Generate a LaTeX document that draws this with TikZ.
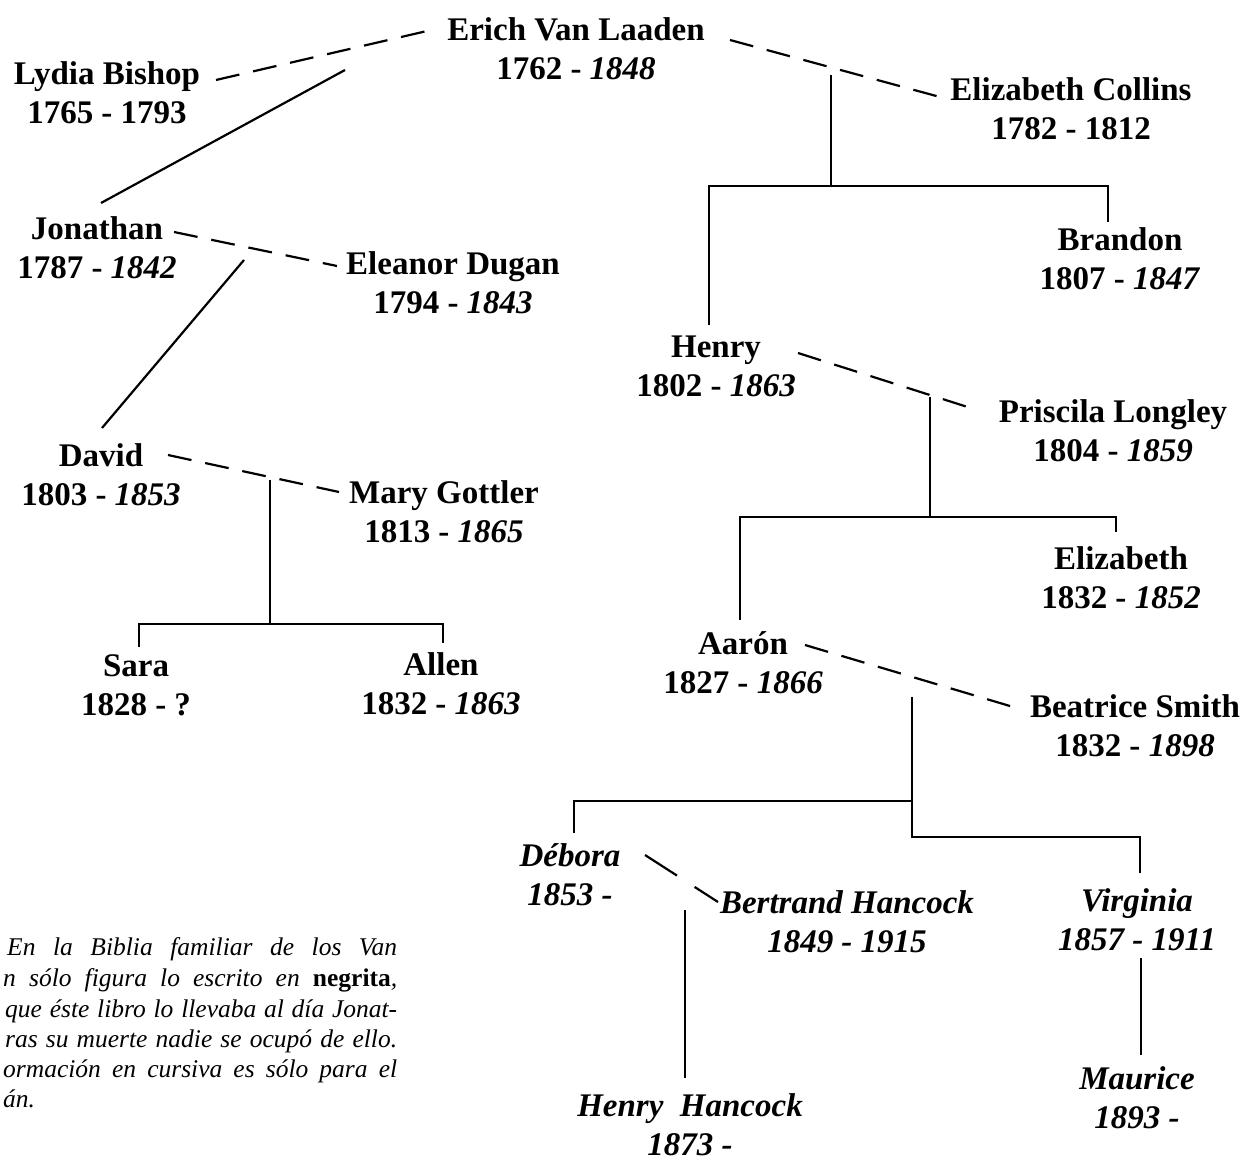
\documentclass[tikz,border=0pt]{standalone}
\usepackage{fontspec}
\setmainfont{Liberation Serif}
\begin{document}
\begin{tikzpicture}[x=1pt,y=-1pt,
  person/.style={font=\fontsize{33}{39}\selectfont\bfseries, align=center, inner sep=0pt},
  italperson/.style={person, font=\fontsize{33}{39}\selectfont\bfseries\itshape},
  marriage/.style={line width=2.2pt, dash pattern=on 24pt off 14pt},
  descent/.style={line width=2.2pt},
  noteline/.style={font=\fontsize{25.5}{30}\selectfont\itshape, anchor=base west, inner sep=0pt}]
\useasboundingbox[fill=white] (0,0) rectangle (1245,1161);

% persons
\node[person] (erich)    at (576,49)   {Erich Van Laaden\\1762 - \textit{1848}};
\node[person] (lydia)    at (107,93)   {Lydia Bishop\\1765 - 1793};
\node[person] (collins)  at (1071,109) {Elizabeth Collins\\1782 - 1812};
\node[person] (jonathan) at (97,248)   {Jonathan\\1787 - \textit{1842}};
\node[person] (eleanor)  at (453,283)  {Eleanor Dugan\\1794 - \textit{1843}};
\node[person] (brandon)  at (1120,259) {Brandon\\1807 - \textit{1847}};
\node[person] (henry)    at (716,366)  {Henry\\1802 - \textit{1863}};
\node[person] (priscila) at (1113,431) {Priscila Longley\\1804 - \textit{1859}};
\node[person] (david)    at (101,475)  {David\\1803 - \textit{1853}};
\node[person] (mary)     at (444,512)  {Mary Gottler\\1813 - \textit{1865}};
\node[person] (eliz)     at (1121,578) {Elizabeth\\1832 - \textit{1852}};
\node[person] (sara)     at (136,685)  {Sara\\1828 - ?};
\node[person] (allen)    at (441,684)  {Allen\\1832 - \textit{1863}};
\node[person] (aaron)    at (743,663)  {Aarón\\1827 - \textit{1866}};
\node[person] (beatrice) at (1135,726) {Beatrice Smith\\1832 - \textit{1898}};
\node[italperson] (debora)   at (570,875)  {Débora\\1853 -};
\node[italperson] (bertrand) at (847,922)  {Bertrand Hancock\\1849 - 1915};
\node[italperson] (virginia) at (1137,920) {Virginia\\1857 - 1911};
\node[italperson] (maurice)  at (1137,1098) {Maurice\\1893 -};
\node[italperson] (hhancock) at (690,1125) {Henry\ \ Hancock\\1873 -};

% junction coordinates
\coordinate (m1a) at (216,80);   \coordinate (m1b) at (427,31);
\coordinate (m2a) at (730,40);   \coordinate (m2b) at (940,97);
\coordinate (m3a) at (174,232);  \coordinate (m3b) at (337,266);
\coordinate (m4a) at (798,353);  \coordinate (m4b) at (977,410);
\coordinate (m5a) at (168,455);  \coordinate (m5b) at (339,492);
\coordinate (m6a) at (805,645);  \coordinate (m6b) at (1020,709);
\coordinate (m7a) at (645,855);  \coordinate (m7b) at (718,902);

% marriages
\draw[marriage] (m1a) -- (m1b);
\draw[marriage] (m2a) -- (m2b);
\draw[marriage] (m3a) -- (m3b);
\draw[marriage] (m4a) -- (m4b);
\draw[marriage] (m5a) -- (m5b);
\draw[marriage] (m6a) -- (m6b);
\draw[line width=2.2pt, dash pattern=on 38pt off 21pt on 30pt off 20pt] (m7a) -- (m7b);

% descent lines
\coordinate (c1) at (345,70);  \coordinate (j1) at (101,203);
\draw[descent] (c1) -- (j1);
\coordinate (c2) at (244,260); \coordinate (d1) at (102,428);
\draw[descent] (c2) -- (d1);

\coordinate (c3) at (831,75);  \coordinate (h3) at (831,186);
\draw[descent] (c3) -- (h3);
\draw[descent] (709,325) -- (709,186) -- (1108,186) -- (1108,222);

\coordinate (c4) at (930,397); \coordinate (h4) at (930,517);
\draw[descent] (c4) -- (h4);
\draw[descent] (740,620) -- (740,517) -- (1116,517) -- (1116,532);

\coordinate (c5) at (270,480); \coordinate (h5) at (270,624);
\draw[descent] (c5) -- (h5);
\draw[descent] (139,647) -- (139,624) -- (443,624) -- (443,643);

\coordinate (c6) at (912,697); \coordinate (h6) at (912,801);
\draw[descent] (c6) -- (912,837) -- (1140,837) -- (1140,873);
\draw[descent] (574,833) -- (574,801) -- (h6);

\coordinate (c7) at (685,910); \coordinate (hh) at (685,1078);
\draw[descent] (c7) -- (hh);
\coordinate (c8) at (1141,958); \coordinate (mm) at (1141,1055);
\draw[descent] (c8) -- (mm);

% note
\node[noteline] (n1) at (7,955)  {\hbox to 390pt{En la Biblia familiar de los Van}};
\node[noteline] (n2) at (3,986)  {\hbox to 394pt{n sólo figura lo escrito en {\upshape\bfseries negrita},}};
\node[noteline] (n3) at (5,1017) {\hbox to 392pt{que éste libro lo llevaba al día Jonat-}};
\node[noteline] (n4) at (5,1047) {\hbox to 392pt{ras su muerte nadie se ocupó de ello.}};
\node[noteline] (n5) at (3,1077) {\hbox to 394pt{ormación en cursiva es sólo para el}};
\node[noteline] (n6) at (3,1107) {án.};
\end{tikzpicture}
\end{document}
